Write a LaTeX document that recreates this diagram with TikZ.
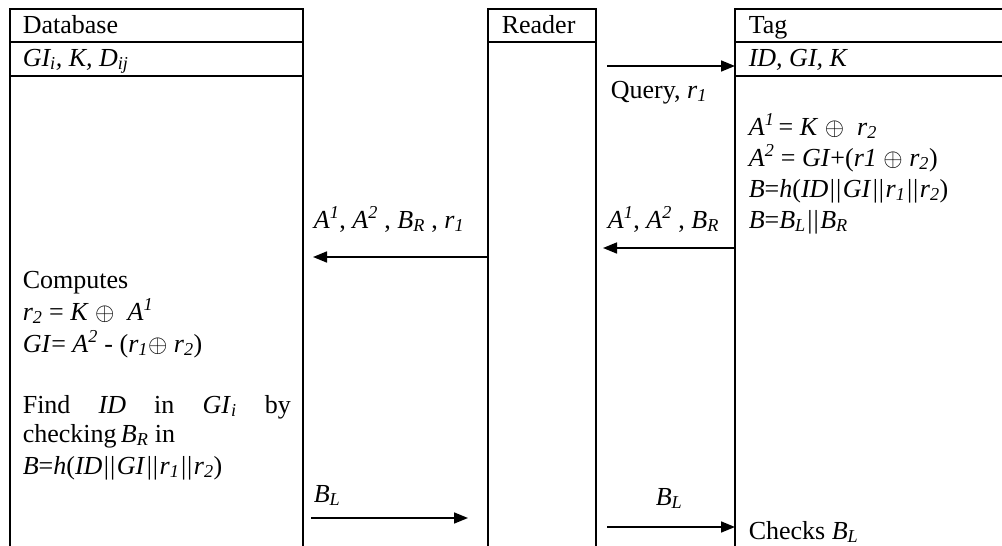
\documentclass[tikz,border=0pt]{standalone}
\usepackage{fontspec}
\setmainfont{Liberation Serif}
\usetikzlibrary{arrows.meta}
\newcommand{\mi}[1]{\textit{#1}}
\newcommand{\sbi}[1]{\textsubscript{\textit{#1}}}
\newcommand{\spi}[1]{\textsuperscript{#1}}
\newcommand{\xo}{$\oplus$}
\newcommand{\bb}{\kern1.5pt|\kern1pt|\kern1.5pt}
\begin{document}
\begin{tikzpicture}[x=1pt,y=-1pt,line width=1.6pt,
  txt/.style={anchor=base west,inner sep=0pt,font=\fontsize{26}{31}\selectfont},
  msg/.style={-{Triangle[length=14pt,width=11pt]},line width=1.6pt}]
\useasboundingbox (0,0) rectangle (1002,546);
% Database lifeline box
\draw (10,546) -- (10,9) -- (303,9) -- (303,546);
\draw (10,42) -- (303,42);
\draw (10,76) -- (303,76);
% Reader
\draw (488,546) -- (488,9) -- (596,9) -- (596,546);
\draw (488,42) -- (596,42);
% Tag
\draw (1010,9) -- (735,9) -- (735,546);
\draw (735,42) -- (1010,42);
\draw (735,76) -- (1010,76);
% headers
\node[txt] (db) at (22,33) {Database};
\node[txt] (dbk) at (22,66) {\mi{GI\sbi{i}, K, D\sbi{ij}}};
\node[txt] (rd) at (501,33) {Reader};
\node[txt] (tg) at (748,33) {Tag};
\node[txt] (tgk) at (748,66) {\mi{ID, GI, K}};
% tag computations
\node[txt] (t1) at (748,135) {\mi{A}\spi{\mi{1}}\,= \mi{K} \xo{}\ \ \mi{r}\sbi{2}};
\node[txt] (t2) at (748,166) {\mi{A}\spi{\mi{2}} = \mi{GI}+(\mi{r1} \xo{} \mi{r}\sbi{2})};
\node[txt] (t3) at (748,197) {\mi{B}=\mi{h}(\mi{ID}\bb\mi{GI}\bb\mi{r}\sbi{1}\bb\mi{r}\sbi{2})};
\node[txt] (t4) at (748,228) {\mi{B}=\mi{B}\sbi{L}\bb\mi{B}\sbi{R}};
% database computations
\node[txt] (d1) at (22,288) {Computes};
\node[txt] (d2) at (22,320) {\mi{r}\sbi{2} = \mi{K} \xo{}\ \ \mi{A}\spi{\mi{1}}};
\node[txt] (d3) at (22,352) {\mi{GI}= \mi{A}\spi{\mi{2}} - (\mi{r}\sbi{1}\xo{} \mi{r}\sbi{2})};
\node[txt,text width=268pt] (d4) at (22,413) {Find\hfill\mi{ID}\hfill in\hfill\mi{GI}\sbi{i}\hfill by};
\node[txt] (d5) at (22,442) {checking\,\mi{B}\sbi{R} in};
\node[txt] (d6) at (22,474) {\mi{B}=\mi{h}(\mi{ID}\bb\mi{GI}\bb\mi{r}\sbi{1}\bb\mi{r}\sbi{2})};
% message labels
\node[txt] (l1) at (610,98) {Query, \mi{r}\sbi{1}};
\node[txt] (l2) at (607,228) {\mi{A}\spi{\mi{1}}, \mi{A}\spi{\mi{2}} , \mi{B}\sbi{R}};
\node[txt] (l3) at (313,228) {\mi{A}\spi{\mi{1}}, \mi{A}\spi{\mi{2}} , \mi{B}\sbi{R} , \mi{r}\sbi{1}};
\node[txt] (l4) at (313,502) {\mi{B}\sbi{L}};
\node[txt] (l5) at (655,505) {\mi{B}\sbi{L}};
\node[txt] (t5) at (748,539) {Checks \mi{B}\sbi{L}};
% arrow endpoints
\coordinate (q1) at (607,66);  \coordinate (q2) at (735,66);
\coordinate (a1) at (735,248); \coordinate (a2) at (603,248);
\coordinate (b1) at (487,257); \coordinate (b2) at (313,257);
\coordinate (c1) at (311,518); \coordinate (c2) at (468,518);
\coordinate (e1) at (607,527); \coordinate (e2) at (735,527);
\draw[msg] (q1) -- (q2);
\draw[msg] (a1) -- (a2);
\draw[msg] (b1) -- (b2);
\draw[msg] (c1) -- (c2);
\draw[msg] (e1) -- (e2);
\end{tikzpicture}
\end{document}
